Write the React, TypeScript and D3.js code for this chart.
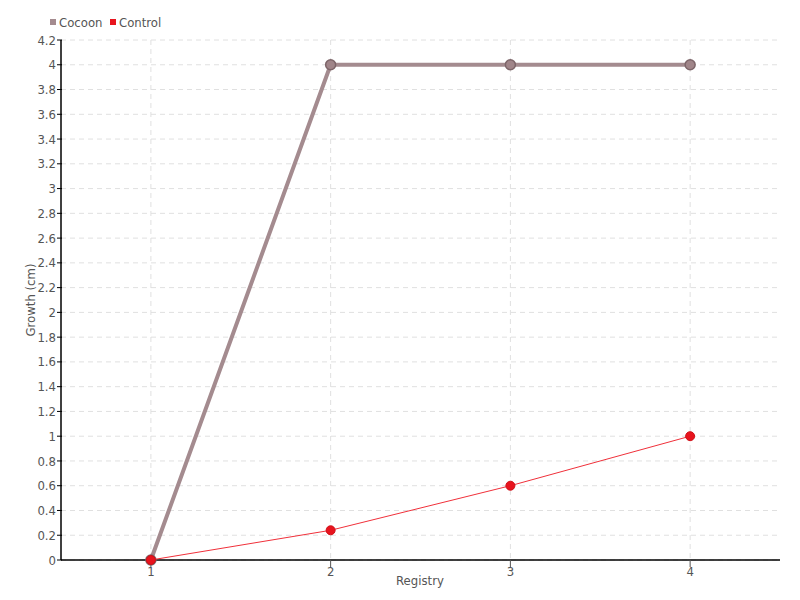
import React from "react";
import * as d3 from "d3";

const categories = ["1", "2", "3", "4"];
const cocoon = [0, 4, 4, 4];
const control = [0, 0.24, 0.6, 1.0];
const yTicks = [0, 0.2, 0.4, 0.6, 0.8, 1, 1.2, 1.4, 1.6, 1.8, 2, 2.2, 2.4, 2.6, 2.8, 3, 3.2, 3.4, 3.6, 3.8, 4, 4.2];
const seriesNames = ["Cocoon", "Control"];

const W = 800, H = 600;
const left = 61, right = 780, top = 40, bottom = 560;
const FONT = "'DejaVu Sans Condensed', 'Liberation Sans Narrow', sans-serif";

export default function App() {
  const x = d3.scaleBand().domain(categories).range([left, right]).padding(0);
  const cx = (c: string) => (x(c) as number) + x.bandwidth() / 2;
  const y = d3.scaleLinear().domain([0, 4.2]).range([bottom, top]);
  const line = d3.line<number>().x((_, i) => cx(categories[i])).y((d) => y(d));
  const fmt = (v: number) => d3.format("~g")(+v.toFixed(1));

  return (
    <svg width={W} height={H} style={{ position: "absolute", left: 0, top: 0, fontFamily: FONT }}>
      <rect width={W} height={H} fill="#fff" />
      {yTicks.map((t) => (
        <line key={"g" + t} x1={left} x2={right} y1={y(t)} y2={y(t)} stroke="#e0e0e0" strokeDasharray="5,4" />
      ))}
      {categories.map((c) => (
        <line key={"v" + c} x1={cx(c)} x2={cx(c)} y1={top} y2={bottom} stroke="#e0e0e0" strokeDasharray="5,4" />
      ))}
      <line x1={left} x2={left} y1={top} y2={bottom} stroke="#000" strokeWidth={1.5} />
      <line x1={left} x2={right} y1={bottom} y2={bottom} stroke="#000" strokeWidth={1.5} />
      {yTicks.map((t) => (
        <g key={"t" + t}>
          <line x1={left - 4} x2={left + 1} y1={y(t)} y2={y(t)} stroke="#000" />
          <text x={left - 5} y={y(t)} dy="0.35em" textAnchor="end" fontSize={13} fill="#555">{fmt(t)}</text>
        </g>
      ))}
      {categories.map((c) => (
        <g key={"xt" + c}>
          <line x1={cx(c)} x2={cx(c)} y1={bottom} y2={bottom + 7} stroke="#555" />
          <text x={cx(c)} y={bottom + 16} textAnchor="middle" fontSize={13} fill="#555">{c}</text>
        </g>
      ))}
      <text x={420} y={585} textAnchor="middle" fontSize={13} fill="#555">Registry</text>
      <text transform={`translate(35,300) rotate(-90)`} textAnchor="middle" fontSize={13} fill="#555">Growth (cm)</text>

      <path d={line(cocoon) as string} fill="none" stroke="#a48b8f" strokeWidth={4} />
      {cocoon.map((v, i) => (
        <circle key={"cc" + i} cx={cx(categories[i])} cy={y(v)} r={5} fill="#a08589" stroke="#7d6569" strokeWidth={1.5} />
      ))}
      <path d={line(control) as string} fill="none" stroke="#f0303a" strokeWidth={1} />
      {control.map((v, i) => (
        <circle key={"ct" + i} cx={cx(categories[i])} cy={y(v)} r={4.5} fill="#e8141e" stroke="#d01018" strokeWidth={1} />
      ))}

      <rect x={50} y={19} width={6} height={6} fill="#a48b8f" />
      <text x={59} y={27} fontSize={13} fill="#555">{seriesNames[0]}</text>
      <rect x={110} y={19} width={6} height={6} fill="#e8141e" />
      <text x={119} y={27} fontSize={13} fill="#555">{seriesNames[1]}</text>
    </svg>
  );
}
